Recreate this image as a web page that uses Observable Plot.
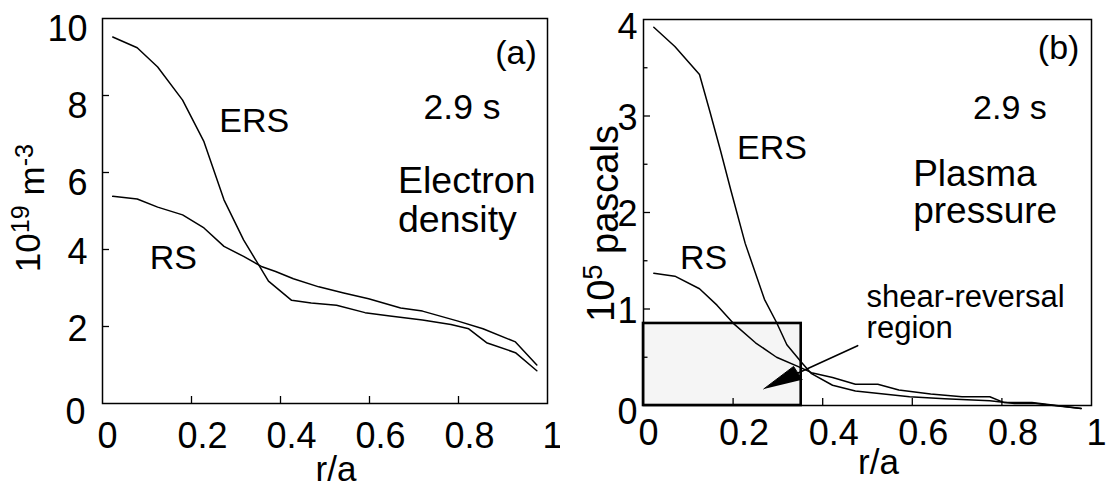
<!DOCTYPE html>
<html><head><meta charset="utf-8">
<script src="https://cdn.jsdelivr.net/npm/d3@7"></script>
<script src="https://cdn.jsdelivr.net/npm/@observablehq/plot@0.6"></script>
<style>
html,body{margin:0;padding:0;background:#fff;}
#wrap{position:relative;width:1108px;height:487px;overflow:hidden;background:#fff;}
#left{position:absolute;left:0;top:0;}
#right{position:absolute;left:560px;top:0;}
svg{overflow:visible;}
</style></head><body>
<div id="wrap"><div id="left"></div><div id="right"></div></div>
<script>
const FONT = '"Liberation Sans", Arial, Helvetica, sans-serif';

// ---- Panel (a): electron density, 10^19 m^-3 vs r/a ----
const densityERS = [[0.023,9.52],[0.078,9.24],[0.124,8.74],[0.180,7.88],[0.228,6.80],[0.273,5.29],[0.317,4.25],[0.373,3.18],[0.425,2.68],[0.469,2.61],[0.526,2.55],[0.590,2.36],[0.646,2.27],[0.719,2.17],[0.783,2.05],[0.823,1.94],[0.863,1.58],[0.928,1.32],[0.976,0.85]];
const densityRS = [[0.023,5.38],[0.078,5.31],[0.124,5.10],[0.180,4.90],[0.228,4.56],[0.273,4.08],[0.317,3.82],[0.357,3.56],[0.389,3.43],[0.429,3.24],[0.486,3.03],[0.542,2.87],[0.598,2.72],[0.670,2.48],[0.719,2.40],[0.799,2.14],[0.855,1.94],[0.928,1.60],[0.976,1.00]];

// ---- Panel (b): plasma pressure, 10^5 pascals vs r/a ----
const pressureERS = [[0.023,3.92],[0.070,3.72],[0.125,3.43],[0.148,3.05],[0.172,2.64],[0.195,2.23],[0.227,1.68],[0.270,1.10],[0.297,0.86],[0.320,0.63],[0.352,0.45],[0.375,0.33],[0.422,0.21],[0.473,0.15],[0.594,0.09],[0.672,0.07],[0.773,0.05],[0.828,0.02],[0.875,0.02],[0.977,-0.03]];
const pressureRS = [[0.023,1.37],[0.070,1.34],[0.125,1.21],[0.164,1.04],[0.203,0.84],[0.250,0.65],[0.297,0.50],[0.352,0.39],[0.375,0.34],[0.422,0.29],[0.473,0.22],[0.523,0.22],[0.570,0.16],[0.641,0.12],[0.711,0.09],[0.773,0.09],[0.805,0.03],[0.867,0.03],[0.977,-0.03]];
const shearRegion = [{x1:0, x2:0.352, y1:0, y2:0.85}];
const arrowShaft = [[0.478,0.62],[0.345,0.337]];
const arrowHead = [[0.2685,0.172],[0.335,0.405],[0.354,0.268]];

// ---- ticks ----
const xTickMarks = [0.2,0.4,0.6,0.8];
const xLabelsInt = [0,1];
const xLabelsDec = [0.2,0.4,0.6,0.8];
const densityYTickMarks = [2,4,6,8];
const densityYLabelsHi = [6,8,10];
const densityYLabelsLo = [2,4];
const densityYLabelsZero = [0];
const pressureYMajor = [1,2,3];
const pressureYMinor = [0.5,1.5,2.5,3.5];
const pressureYLabels = [1,2,3];
const pressureYLabelsTop = [4];
const pressureYLabelsZero = [0];

// ---- text ----
const xTitle = "r/a";
const densityYTitle = [["10",false],["19",true],[" m",false],["-3",true]];
const pressureYTitle = [["10",false],["5",true],[" pascals",false]];
const densityNotesMid = [{t:"ERS",x:0.341,y:7.33},{t:"RS",x:0.159,y:3.77}];
const densityTime = [{t:"2.9 s",x:0.808,y:7.68}];
const densityNotesStart = [{t:"Electron\ndensity",x:0.664,y:5.29}];
const densityNotesEnd = [{t:"(a)",x:0.976,y:9.11}];
const pressureNotesMid = [{t:"ERS",x:0.287,y:2.67},{t:"RS",x:0.134,y:1.53}];
const pressureTime = [{t:"2.9 s",x:0.818,y:3.08}];
const pressureNotesStart = [{t:"Plasma\npressure",x:0.602,y:2.21}];
const pressureNotesSmall = [{t:"shear-reversal\nregion",x:0.498,y:0.96}];
const pressureNotesEnd = [{t:"(b)",x:0.973,y:3.70}];

const fmt = d => String(d);
const TICK = 36;

function tickMarksX() {
  return Plot.axisX(xTickMarks, {tickSize: -7, tickFormat: () => "", strokeWidth: 1.3, label: null});
}
function labelsX(ticks, pad, dx) {
  return Plot.text(ticks, {x: d => d, text: fmt, frameAnchor: "bottom", textAnchor: "middle", lineAnchor: "top",
    dy: pad, dx, fontSize: TICK, fontFamily: FONT, fill: "black"});
}
function labelsY(ticks, pad, dy) {
  return Plot.text(ticks, {y: d => d, text: fmt, frameAnchor: "left", textAnchor: "end", lineAnchor: "middle",
    dx: -pad, dy, fontSize: TICK, fontFamily: FONT, fill: "black"});
}
function titleText(parts, opts) {
  return Plot.text([parts.map(p => p[0]).join("")], {
    frameAnchor: "left", rotate: -90, textAnchor: "middle", lineAnchor: "middle",
    fontFamily: FONT, fill: "black", ...opts
  });
}
function notes(data, anchor, size, lh) {
  return Plot.text(data, {x: "x", y: "y", text: "t", textAnchor: anchor, lineAnchor: "middle",
    lineHeight: lh || 1, fontSize: size, fontFamily: FONT, fill: "black"});
}

const left = Plot.plot({
  width: 560, height: 487,
  marginLeft: 102, marginRight: 13, marginTop: 18, marginBottom: 84,
  style: {fontFamily: FONT, background: "white", color: "black"},
  x: {domain: [0, 1]},
  y: {domain: [0, 10]},
  marks: [
    tickMarksX(),
    Plot.axisY(densityYTickMarks, {tickSize: -7, tickFormat: () => "", strokeWidth: 1.3, label: null}),
    labelsX(xLabelsInt, 19, 5),
    labelsX(xLabelsDec, 19, 11),
    labelsY(densityYLabelsHi, 15, 11),
    labelsY(densityYLabelsLo, 15, 3),
    labelsY(densityYLabelsZero, 17, 9),
    Plot.line(densityERS, {x: d => d[0], y: d => d[1], stroke: "black", strokeWidth: 1.5}),
    Plot.line(densityRS, {x: d => d[0], y: d => d[1], stroke: "black", strokeWidth: 1.5}),
    Plot.frame({stroke: "black", strokeWidth: 1.5}),
    notes(densityNotesMid, "middle", 34),
    notes(densityTime, "middle", 35.5),
    notes(densityNotesStart, "start", 37.5, 1.04),
    notes(densityNotesEnd, "end", 34),
    Plot.text([xTitle], {frameAnchor: "bottom", dy: 66, dx: 11, textAnchor: "middle", lineAnchor: "middle", fontSize: 35, fontFamily: FONT, fill: "black"}),
    titleText(densityYTitle, {dx: -74, dy: -3, fontSize: 35})
  ]
});

const right = Plot.plot({
  width: 548, height: 487,
  marginLeft: 83, marginRight: 17, marginTop: 19, marginBottom: 82,
  style: {fontFamily: FONT, background: "white", color: "black"},
  x: {domain: [0, 1]},
  y: {domain: [0, 4]},
  marks: [
    Plot.rect(shearRegion, {x1: "x1", x2: "x2", y1: "y1", y2: "y2", fill: "#f5f5f5", stroke: "black", strokeWidth: 2.6}),
    tickMarksX(),
    Plot.axisY(pressureYMajor, {tickSize: -7, tickFormat: () => "", strokeWidth: 1.3, label: null}),
    Plot.axisY(pressureYMinor, {tickSize: -4.5, tickFormat: () => "", strokeWidth: 1.3, label: null}),
    labelsX(xLabelsInt, 14, 5),
    labelsX(xLabelsDec, 14, 11),
    labelsY(pressureYLabels, 6, 2),
    labelsY(pressureYLabelsTop, 6, 8),
    labelsY(pressureYLabelsZero, 6, 7),
    Plot.line(pressureERS, {x: d => d[0], y: d => d[1], stroke: "black", strokeWidth: 1.5}),
    Plot.line(pressureRS, {x: d => d[0], y: d => d[1], stroke: "black", strokeWidth: 1.5}),
    Plot.frame({stroke: "black", strokeWidth: 1.5}),
    Plot.line(arrowShaft, {x: d => d[0], y: d => d[1], stroke: "black", strokeWidth: 1.6}),
    Plot.line(arrowHead, {x: d => d[0], y: d => d[1], fill: "black", stroke: "black", strokeWidth: 1}),
    notes(pressureNotesMid, "middle", 34),
    notes(pressureTime, "middle", 34),
    notes(pressureNotesStart, "start", 37, 1.0),
    notes(pressureNotesSmall, "start", 31, 0.97),
    notes(pressureNotesEnd, "end", 34),
    Plot.text([xTitle], {frameAnchor: "bottom", dy: 57, dx: 11, textAnchor: "middle", lineAnchor: "middle", fontSize: 35, fontFamily: FONT, fill: "black"}),
    titleText(pressureYTitle, {dx: -42, dy: 11, fontSize: 38})
  ]
});

// Rebuild the rotated axis titles with real superscript tspans
function superscript(svg, parts) {
  const joined = parts.map(p => p[0]).join("");
  d3.select(svg).selectAll("text").filter(function() { return this.textContent === joined; }).each(function() {
    const t = d3.select(this);
    t.text(null);
    let raised = false;
    parts.forEach(([s, sup]) => {
      const ts = t.append("tspan").text(s);
      if (sup && !raised) { ts.attr("dy", "-0.42em").attr("font-size", "72%"); raised = true; }
      else if (sup && raised) { ts.attr("font-size", "72%"); }
      else if (!sup && raised) { ts.attr("dy", "0.42em"); raised = false; }
    });
  });
}
superscript(left, densityYTitle);
superscript(right, pressureYTitle);

document.getElementById("left").appendChild(left);
document.getElementById("right").appendChild(right);
</script>
</body></html>
